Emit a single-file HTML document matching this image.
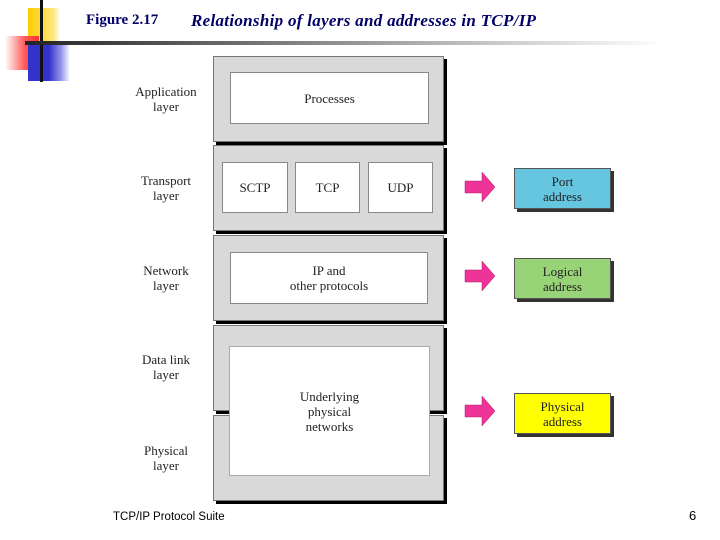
<!DOCTYPE html>
<html><head><style>
*{margin:0;padding:0}
body{width:720px;height:540px;background:#fff;position:relative;overflow:hidden;font-family:"Liberation Serif",serif}
.a{position:absolute}
.layer{position:absolute;left:213px;width:229px;background:#d9d9d9;border:1px solid #777;box-shadow:3px 3px 0 #000}
.w{position:absolute;background:#fff;border:1px solid #888;display:flex;align-items:center;justify-content:center;text-align:center;font-size:13px;color:#222;line-height:15px}
.lbl{position:absolute;left:120px;width:92px;text-align:center;font-size:13px;line-height:15px;color:#222}
.addr{position:absolute;left:514px;width:95px;height:39px;border:1px solid #555;box-shadow:3px 3px 0 #333;display:flex;align-items:center;justify-content:center;text-align:center;font-size:13px;line-height:15px;color:#222}
</style></head><body>
<div class="a" style="left:28px;top:8px;width:32px;height:42px;background:linear-gradient(90deg,#ffcc00,#ffe680 80%,#fff)"></div>
<div class="a" style="left:5px;top:36px;width:34px;height:34px;background:linear-gradient(90deg,#fff,#ff5555 60%,#ff3333)"></div>
<div class="a" style="left:28px;top:45px;width:42px;height:36px;background:linear-gradient(90deg,#3333cc 50%,#9999ee 80%,#fff)"></div>
<div class="a" style="left:40px;top:0;width:3px;height:82px;background:#111"></div>
<div class="a" style="left:25px;top:41px;width:640px;height:4px;background:linear-gradient(90deg,#222,#666 30%,#ccc 75%,#fff)"></div>
<div class="a" style="left:86px;top:12px;font-size:15px;font-weight:bold;color:#000066;white-space:nowrap">Figure 2.17</div>
<div class="a" style="left:191px;top:11px;font-size:17px;font-weight:bold;font-style:italic;letter-spacing:0.3px;color:#000066;white-space:nowrap">Relationship of layers and addresses in TCP/IP</div>

<div class="layer" style="top:56px;height:84px"></div>
<div class="layer" style="top:145px;height:84px"></div>
<div class="layer" style="top:235px;height:84px"></div>
<div class="layer" style="top:325px;height:84px"></div>
<div class="layer" style="top:415px;height:84px"></div>

<div class="w" style="left:230px;top:72px;width:197px;height:50px">Processes</div>
<div class="w" style="left:222px;top:162px;width:64px;height:49px">SCTP</div>
<div class="w" style="left:295px;top:162px;width:63px;height:49px">TCP</div>
<div class="w" style="left:368px;top:162px;width:63px;height:49px">UDP</div>
<div class="w" style="left:230px;top:252px;width:196px;height:50px">IP and<br>other protocols</div>
<div class="w" style="left:229px;top:346px;width:199px;height:128px;border-color:#aaa">Underlying<br>physical<br>networks</div>

<div class="lbl" style="top:84px">Application<br>layer</div>
<div class="lbl" style="top:173px">Transport<br>layer</div>
<div class="lbl" style="top:263px">Network<br>layer</div>
<div class="lbl" style="top:352px">Data link<br>layer</div>
<div class="lbl" style="top:443px">Physical<br>layer</div>

<svg class="a" style="left:0;top:0" width="720" height="540">
<g fill="#ee3399" stroke="#aa2266" stroke-width="0.5">
<polygon points="465,181 482,181 482,172 495,187 482,202 482,193 465,193"/>
<polygon points="465,270 482,270 482,261 495,276 482,291 482,282 465,282"/>
<polygon points="465,405 482,405 482,396 495,411 482,426 482,417 465,417"/>
</g></svg>

<div class="addr" style="top:168px;background:#66c6e0">Port<br>address</div>
<div class="addr" style="top:258px;background:#99d377">Logical<br>address</div>
<div class="addr" style="top:393px;background:#ffff00">Physical<br>address</div>

<div class="a" style="left:113px;top:511px;font-family:'Liberation Sans',sans-serif;font-size:11.5px;color:#000">TCP/IP Protocol Suite</div>
<div class="a" style="left:689px;top:508px;font-family:'Liberation Sans',sans-serif;font-size:13px;color:#000">6</div>
</body></html>
